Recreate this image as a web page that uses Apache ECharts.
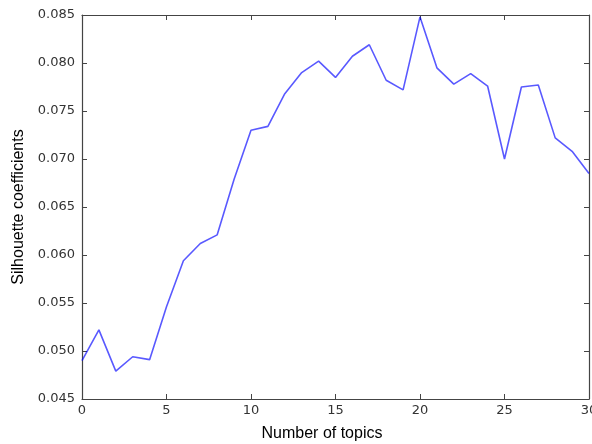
<!DOCTYPE html>
<html><head><meta charset="utf-8">
<script src="https://cdn.jsdelivr.net/npm/echarts@6/dist/echarts.min.js"></script>
<style>html,body{margin:0;padding:0;background:#fff}#c{width:592px;height:444px}</style>
</head><body><div id="c"></div>
<script>
var topics = [0,1,2,3,4,5,6,7,8,9,10,11,12,13,14,15,16,17,18,19,20,21,22,23,24,25,26,27,28,29,30];
var silhouette = [0.0490,0.0522,0.0479,0.0494,0.0491,0.0546,0.0594,0.0612,0.0621,0.0679,0.0730,0.0734,0.0768,0.0790,0.0802,0.0785,0.0807,0.0819,0.0782,0.0772,0.0848,0.0795,0.0778,0.0789,0.0776,0.0700,0.0775,0.0777,0.0722,0.0708,0.0685];
var xTicks = [0,5,10,15,20,25,30];
var yTicks = [0.045,0.050,0.055,0.060,0.065,0.070,0.075,0.080,0.085];

var titleFont = 'Liberation Sans, Arial, sans-serif';
var tickFont = 'DejaVu Sans, sans-serif';
function axisLine(){ return {show:true, onZero:false, lineStyle:{color:'#444', width:1.2}}; }
function tick(){ return {show:true, inside:true, length:5, lineStyle:{color:'#444', width:1}}; }
var chart = echarts.init(document.getElementById('c'), null, {renderer:'canvas'});
chart.setOption({
  animation:false,
  backgroundColor:'#fff',
  grid:{left:82, top:15, right:3, bottom:45, containLabel:false, outerBoundsMode:'none'},
  xAxis:[{
    type:'value', min:0, max:30, interval:5, position:'bottom',
    name:'Number of topics', nameLocation:'middle', nameGap:27,
    nameTextStyle:{fontFamily:titleFont, fontSize:16, color:'#000', padding:[0,27,0,0]},
    axisLine:axisLine(), axisTick:tick(), splitLine:{show:false},
    axisLabel:{fontFamily:tickFont, fontSize:13, color:'#333', margin:5,
      formatter:function(v){return xTicks.indexOf(v)>=0 ? String(v) : '';}}
  },{
    type:'value', position:'top', min:0, max:30, interval:5,
    axisLine:axisLine(), axisTick:tick(), splitLine:{show:false}, axisLabel:{show:false}
  }],
  yAxis:[{
    type:'value', min:0.045, max:0.085, interval:0.005, position:'left',
    name:'Silhouette coefficients', nameLocation:'middle', nameGap:50,
    nameTextStyle:{fontFamily:titleFont, fontSize:16, color:'#000'},
    axisLine:axisLine(), axisTick:tick(), splitLine:{show:false},
    axisLabel:{fontFamily:tickFont, fontSize:13, color:'#333', margin:7,
      formatter:function(v){return v.toFixed(3);}}
  },{
    type:'value', position:'right', min:0.045, max:0.085, interval:0.005,
    axisLine:axisLine(), axisTick:tick(), splitLine:{show:false}, axisLabel:{show:false}
  }],
  series:[{
    type:'line', data: topics.map(function(t,i){return [t, silhouette[i]];}),
    showSymbol:false, symbol:'none',
    lineStyle:{color:'#0000ff', width:1.6, opacity:0.65}
  }]
});
</script></body></html>
